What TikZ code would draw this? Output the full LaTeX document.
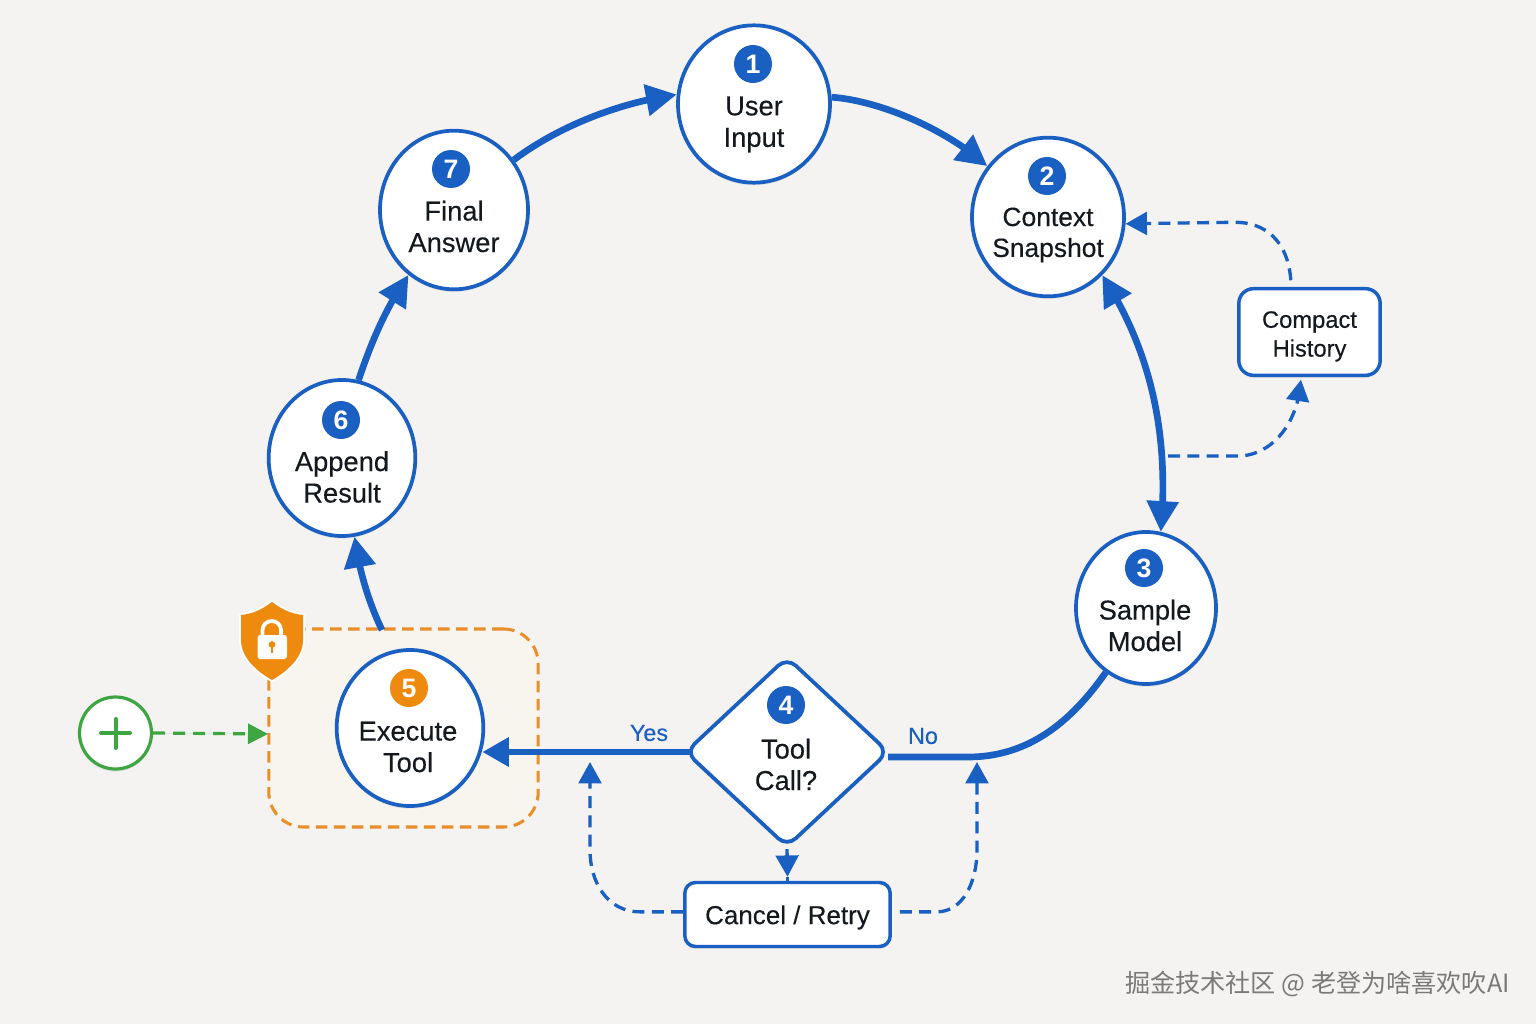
\documentclass[tikz,border=0pt]{standalone}
\usepackage{fontspec}
\setmainfont{Liberation Sans}
\newfontfamily\cjkfont{Noto Sans CJK SC}
\usetikzlibrary{arrows.meta,shapes.geometric,shadows,bending}
\definecolor{bgc}{HTML}{F5F3F1}
\definecolor{flowblue}{HTML}{1A5FC2}
\definecolor{inkc}{HTML}{14181F}
\definecolor{orangec}{HTML}{EE8A0E}
\definecolor{dashorange}{HTML}{E88E2A}
\definecolor{greenc}{HTML}{3DA542}
\definecolor{groupfill}{HTML}{F8F5EF}
\newcommand{\medweight}{\addfontfeature{FakeBold=0.25}}
\tikzset{
  softshadow/.style={general shadow={shadow xshift=0pt,shadow yshift=-2pt,fill=black,opacity=.07}},
  stage/.style={ellipse,draw=flowblue,line width=2.8pt,fill=white,inner sep=0pt,softshadow},
  badge/.style={circle,fill=flowblue,text=white,inner sep=0pt,minimum size=28.5pt,font=\fontsize{20}{22}\selectfont\bfseries},
  stagetext/.style={text=inkc,align=center,inner sep=0pt,font=\fontsize{20.5}{23.6}\selectfont\medweight},
  boxnode/.style={rectangle,draw=flowblue,line width=2.6pt,fill=white,inner sep=0pt,softshadow,align=center,text=inkc},
  flow/.style={draw=flowblue,line width=5pt},
  bighead/.style={-{Triangle[length=23pt,width=23pt]}},
  twohead/.style={{Triangle[length=23pt,width=23pt]}-{Triangle[length=23pt,width=23pt]}},
  side/.style={draw=flowblue,line width=2.5pt,dash pattern=on 9pt off 5.5pt,-{Triangle[length=16pt,width=17pt]}},
  edgelabel/.style={text=flowblue,inner sep=0pt,font=\fontsize{17.5}{20}\selectfont\medweight},
}
\begin{document}
\begin{tikzpicture}[x=0.75pt,y=-0.75pt]
\useasboundingbox (0,0) rectangle (1536,1024);
\fill[bgc] (0,0) rectangle (1536,1024);

% guarded group
\node[rectangle,rounded corners=26pt,draw=dashorange,fill=groupfill,line width=2.3pt,dash pattern=on 8.5pt off 5pt,
  minimum width=202pt,minimum height=148.5pt,inner sep=0pt] (grp) at (403.5,728) {};

% stage circles
\node[stage,minimum width=114pt,minimum height=118pt] (n1) at (754,104) {};
\node[stage,minimum width=114pt,minimum height=119pt] (n2) at (1048,217) {};
\node[stage,minimum width=105pt,minimum height=114pt] (n3) at (1146,608) {};
\node[stage,minimum width=110pt,minimum height=117pt] (n5) at (410,728) {};
\node[stage,minimum width=110pt,minimum height=117pt] (n6) at (342,458) {};
\node[stage,minimum width=111pt,minimum height=119pt] (n7) at (454,210) {};
\node[diamond,rounded corners=9pt,draw=flowblue,line width=2.8pt,fill=white,inner sep=0pt,softshadow,
  minimum width=153pt,minimum height=143pt] (n4) at (787,752) {};

% side boxes
\node[boxnode,rounded corners=11pt,minimum width=106pt,minimum height=65pt,font=\fontsize{17.8}{21.6}\selectfont\medweight] (ch) at (1309.5,332) {\rule{0pt}{19pt}Compact\\History};
\node[boxnode,rounded corners=8pt,minimum width=154pt,minimum height=48pt,font=\fontsize{19.5}{22}\selectfont\medweight] (cr) at (787.5,914.5) {\rule{0pt}{18.5pt}Cancel / Retry};

% badges
\node[badge] (b1) at (753,64) {1};
\node[badge] (b2) at (1047,176) {2};
\node[badge] (b3) at (1144,568) {3};
\node[badge] (b4) at (786,705) {4};
\node[badge,fill=orangec] (b5) at (409,688) {5};
\node[badge] (b6) at (341,420) {6};
\node[badge] (b7) at (451,169) {7};

% stage texts
\node[stagetext] (t1) at (754,124.5) {User\\Input};
\node[stagetext,font=\fontsize{19.8}{23.2}\selectfont\medweight] (t2) at (1048,235) {Context\\Snapshot};
\node[stagetext] (t3) at (1145,625.5) {Sample\\Model};
\node[stagetext] (t4) at (786,764.5) {Tool\\Call?};
\node[stagetext] (t5) at (408,747) {Execute\\Tool};
\node[stagetext] (t6) at (342,477) {Append\\Result};
\node[stagetext] (t7) at (454,226.5) {Final\\Answer};

% main flow
\coordinate (g56) at (382,630);
\coordinate (nobend) at (968,757);
\draw[flow,bighead] (n1.5) .. controls +(44,3) and +(-45,-40) .. (n2.140);
\draw[flow,twohead] (n2.-47) .. controls +(47,73) and +(9,-101) .. (n3.79);
\draw[flow] (n3.238) .. controls +(-35,50) and +(60,0) .. (nobend) -- ([xshift=-2pt]n4.east |- nobend);
\draw[flow,-{Triangle[length=20pt,width=21pt]}] ([xshift=5pt]n4.west) -- (n5.-17 |- n4.west);
\draw[flow,bighead] (g56) .. controls +(-12,-25) and +(5,37) .. (n6.-81);
\draw[flow,bighead] (n6.78) .. controls +(12,-36) and +(-23,33) .. (n7.235);
\draw[flow,bighead] (n7.40) .. controls +(47,-35) and +(-56,8) .. (n1.173);

% dashed side paths
\coordinate (c23) at (1168,456);
\coordinate (yesin) at (590,762);
\coordinate (noin) at (977,762);
\draw[side] (c23) -- +(70,0) .. controls +(32,0) and +(-3,46) .. ([xshift=-6.4pt,yshift=-2pt]ch.south);
\draw[side] ([xshift=-14pt,yshift=5pt]ch.north) .. controls +(-3,-40) and +(30,0) .. ++(-56,-58) -- (n2.-5);
\draw[side] (n4.south) -- ([yshift=3pt]cr.north);
\draw[flowblue,line width=2.5pt] ([yshift=3pt]cr.north) -- (cr.north);
\draw[side] ([yshift=2pt]cr.west) -- +(-43,0) .. controls +(-33,0) and +(0,32) .. (590,850) -- (yesin);
\draw[side] ([xshift=6pt,yshift=2pt]cr.east) -- +(37,0) .. controls +(26,0) and +(0,32) .. (977,850) -- (noin);

% edge labels
\node[edgelabel] (yes) at (649,733) {Yes};
\node[edgelabel] (no) at (923,736) {No};

% entry point
\node[circle,draw=greenc,line width=2.4pt,fill=white,minimum size=54pt,inner sep=0pt,softshadow] (plus) at (115.5,733) {};
\draw[greenc,line width=3pt,line cap=round] (101,733) -- (130,733) (115.5,719) -- (115.5,748);
\coordinate (gw) at (268,734);
\draw[draw=greenc,line width=2.4pt,dash pattern=on 9pt off 6pt,-{Triangle[length=15pt,width=15pt]},fill=greenc] (plus.east) -- (gw);

% shield with lock
\path[fill=bgc,draw=white,line width=3pt,line join=round]
  (272,602) .. controls (284,611) and (293,614) .. (303,615) -- (303,640)
  .. controls (303,657) and (288,671) .. (272,680)
  .. controls (256,671) and (241,657) .. (241,640) -- (241,615)
  .. controls (251,614) and (260,611) .. (272,602) -- cycle;
\path[fill=orangec]
  (272,602) .. controls (284,611) and (293,614) .. (303,615) -- (303,640)
  .. controls (303,657) and (288,671) .. (272,680)
  .. controls (256,671) and (241,657) .. (241,640) -- (241,615)
  .. controls (251,614) and (260,611) .. (272,602) -- cycle;
\draw[white,line width=2.8pt] (262.5,638) -- (262.5,630) arc[start angle=180,end angle=360,x radius=9.25,y radius=9] -- (281,638);
\fill[white,rounded corners=2pt] (257.5,635) rectangle (287,659);
\fill[orangec] (272,644.5) circle[radius=3.4];
\fill[orangec] (270.6,645) rectangle (273.4,653);

% watermark
\node[text=black!52,inner sep=0pt,anchor=west,font=\cjkfont\fontsize{18.85}{20}\selectfont] (wm) at (1125,984) {掘金技术社区 @ 老登为啥喜欢吹AI};
\end{tikzpicture}
\end{document}
